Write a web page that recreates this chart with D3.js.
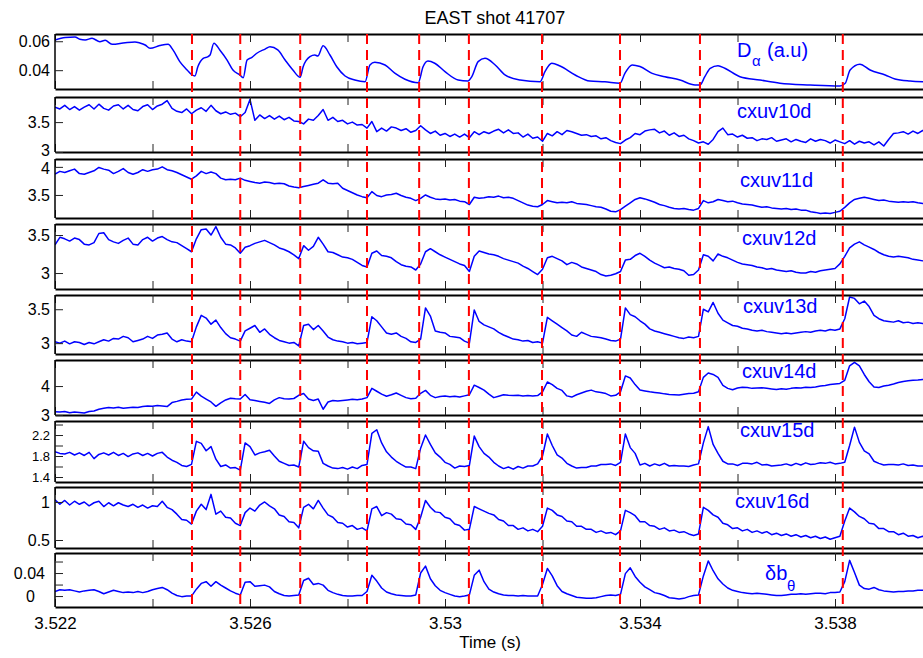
<!DOCTYPE html>
<html><head><meta charset="utf-8">
<script src="https://cdn.jsdelivr.net/npm/d3@7"></script>
<style>
body{margin:0;background:#fff}
svg{display:block}
text{font-family:"Liberation Sans",Arial,Helvetica,sans-serif}
</style></head>
<body><svg id="chart" width="923" height="658"></svg>
<script>
// ---------------- data ----------------
const title = "EAST shot 41707";
const xLabel = "Time (s)";
const xTickValues = [3.522,3.524,3.526,3.528,3.530,3.532,3.534,3.536,3.538,3.540];
const xTickLabels = {"3.522":"3.522","3.526":"3.526","3.53":"3.53","3.534":"3.534","3.538":"3.538"};
const elmTimes = [3.52481,3.52580,3.52703,3.52840,3.52947,3.53049,3.53199,3.53359,3.53523,3.53816];

// sampling instants of the digitised channels (0.1 ms step)
const sampleTimes = d3.range(180).map(i => +(3.522 + i * 0.0001).toFixed(4));

const dalphaTimes = [3.52200,3.52221,3.52241,3.52251,3.52262,3.52276,3.52292,3.52303,3.52317,3.52344,3.52364,3.52374,3.52385,3.52395,3.52415,3.52432,3.52442,3.52456,3.52471,3.52481,3.52487,3.52493,3.52504,3.52514,3.52518,3.52526,3.52538,3.52553,3.52565,3.52579,3.52586,3.52594,3.52604,3.52614,3.52631,3.52641,3.52657,3.52672,3.52688,3.52703,3.52709,3.52723,3.52733,3.52739,3.52750,3.52764,3.52778,3.52795,3.52815,3.52836,3.52846,3.52856,3.52877,3.52897,3.52918,3.52945,3.52955,3.52965,3.52979,3.53000,3.53027,3.53047,3.53055,3.53068,3.53082,3.53103,3.53123,3.53154,3.53195,3.53205,3.53219,3.53236,3.53267,3.53297,3.53328,3.53359,3.53369,3.53384,3.53400,3.53425,3.53451,3.53482,3.53513,3.53523,3.53533,3.53544,3.53560,3.53574,3.53605,3.53646,3.53687,3.53749,3.53810,3.53821,3.53831,3.53851,3.53872,3.53903,3.53923,3.53954,3.53981];
const dalphaValues = [0.0609,0.0625,0.0629,0.0613,0.0609,0.0620,0.0597,0.0606,0.0579,0.0590,0.0595,0.0588,0.0574,0.0551,0.0570,0.0579,0.0540,0.0459,0.0401,0.0367,0.0360,0.0424,0.0482,0.0494,0.0505,0.0586,0.0540,0.0470,0.0401,0.0367,0.0348,0.0470,0.0489,0.0517,0.0546,0.0562,0.0540,0.0470,0.0401,0.0351,0.0424,0.0494,0.0505,0.0498,0.0568,0.0505,0.0424,0.0360,0.0332,0.0320,0.0436,0.0454,0.0436,0.0379,0.0337,0.0313,0.0424,0.0463,0.0448,0.0390,0.0332,0.0325,0.0355,0.0459,0.0482,0.0436,0.0367,0.0332,0.0320,0.0390,0.0448,0.0429,0.0367,0.0325,0.0320,0.0310,0.0378,0.0436,0.0425,0.0378,0.0355,0.0332,0.0298,0.0298,0.0355,0.0413,0.0431,0.0413,0.0355,0.0332,0.0310,0.0298,0.0291,0.0310,0.0401,0.0441,0.0401,0.0367,0.0339,0.0325,0.0320];

const cxuv10d = [3.75,3.72,3.78,3.71,3.76,3.70,3.75,3.79,3.72,3.80,3.73,3.70,3.77,3.79,3.72,3.78,3.71,3.69,3.76,3.79,3.71,3.77,3.80,3.86,3.73,3.68,3.66,3.72,3.64,3.70,3.74,3.68,3.78,3.69,3.64,3.67,3.63,3.65,3.59,3.66,3.88,3.53,3.62,3.56,3.61,3.55,3.60,3.54,3.58,3.52,3.51,3.47,3.55,3.53,3.61,3.71,3.53,3.58,3.51,3.53,3.47,3.50,3.45,3.46,3.40,3.51,3.34,3.40,3.35,3.42,3.40,3.36,3.39,3.33,3.36,3.44,3.37,3.31,3.35,3.28,3.31,3.26,3.30,3.25,3.30,3.24,3.34,3.29,3.34,3.31,3.35,3.38,3.32,3.37,3.31,3.32,3.25,3.30,3.23,3.25,3.18,3.31,3.27,3.34,3.29,3.36,3.34,3.31,3.28,3.29,3.26,3.27,3.22,3.24,3.19,3.16,3.14,3.20,3.24,3.31,3.29,3.35,3.37,3.38,3.32,3.35,3.28,3.32,3.26,3.28,3.22,3.19,3.15,3.17,3.13,3.21,3.34,3.40,3.29,3.30,3.25,3.28,3.23,3.24,3.19,3.22,3.21,3.24,3.18,3.20,3.22,3.17,3.21,3.18,3.16,3.22,3.18,3.21,3.19,3.15,3.20,3.17,3.14,3.19,3.13,3.18,3.15,3.17,3.12,3.17,3.10,3.21,3.31,3.32,3.34,3.30,3.35,3.31,3.36,3.32,3.29,3.33,3.28,3.32,3.34,3.29,3.33,3.28,3.32,3.29];

const cxuv11d = [3.87,3.92,3.90,3.93,3.96,3.88,3.87,3.90,3.93,3.99,3.96,3.94,3.88,3.92,3.97,3.90,3.87,3.90,3.95,3.92,3.95,3.96,4.00,3.95,3.93,3.90,3.86,3.82,3.78,3.84,3.92,3.88,3.91,3.88,3.80,3.77,3.78,3.77,3.80,3.76,3.74,3.72,3.71,3.73,3.72,3.70,3.71,3.70,3.66,3.64,3.63,3.65,3.67,3.69,3.71,3.77,3.71,3.70,3.71,3.62,3.58,3.54,3.50,3.47,3.45,3.56,3.49,3.47,3.50,3.51,3.53,3.49,3.46,3.44,3.40,3.44,3.50,3.46,3.43,3.42,3.43,3.41,3.42,3.39,3.38,3.33,3.46,3.44,3.45,3.47,3.46,3.48,3.45,3.46,3.44,3.40,3.36,3.32,3.30,3.29,3.33,3.40,3.38,3.36,3.37,3.36,3.38,3.35,3.34,3.33,3.31,3.29,3.28,3.25,3.21,3.20,3.24,3.30,3.36,3.42,3.45,3.43,3.40,3.37,3.33,3.31,3.28,3.26,3.25,3.26,3.24,3.23,3.26,3.40,3.36,3.38,3.42,3.40,3.38,3.39,3.36,3.34,3.33,3.32,3.30,3.28,3.29,3.27,3.26,3.25,3.26,3.24,3.25,3.23,3.23,3.20,3.19,3.17,3.18,3.17,3.19,3.21,3.28,3.36,3.42,3.44,3.46,3.44,3.42,3.40,3.41,3.39,3.38,3.37,3.38,3.37,3.38,3.36,3.35,3.35];

const cxuv12d = [3.37,3.47,3.45,3.42,3.46,3.44,3.38,3.37,3.40,3.52,3.53,3.44,3.41,3.39,3.43,3.46,3.38,3.37,3.44,3.47,3.42,3.46,3.48,3.44,3.41,3.40,3.36,3.32,3.28,3.45,3.57,3.58,3.50,3.61,3.47,3.38,3.37,3.33,3.26,3.34,3.36,3.39,3.41,3.43,3.40,3.37,3.33,3.31,3.28,3.24,3.19,3.36,3.30,3.35,3.47,3.38,3.28,3.27,3.24,3.21,3.20,3.18,3.14,3.10,3.08,3.26,3.29,3.23,3.22,3.20,3.15,3.11,3.09,3.08,3.04,3.12,3.28,3.32,3.28,3.24,3.21,3.18,3.15,3.12,3.10,3.02,3.22,3.29,3.27,3.25,3.24,3.22,3.19,3.17,3.15,3.13,3.09,3.06,3.02,2.98,3.05,3.20,3.22,3.19,3.16,3.11,3.14,3.12,3.08,3.06,3.04,3.02,2.98,2.96,2.97,2.99,3.02,3.17,3.18,3.23,3.26,3.22,3.17,3.13,3.10,3.07,3.08,3.06,3.05,3.03,2.97,2.98,3.04,3.24,3.22,3.16,3.25,3.22,3.20,3.17,3.14,3.12,3.11,3.10,3.08,3.07,3.05,3.06,3.04,3.03,3.02,3.03,3.01,3.00,3.00,3.02,3.01,3.03,3.04,3.05,3.06,3.12,3.22,3.33,3.38,3.41,3.37,3.34,3.31,3.27,3.24,3.22,3.21,3.22,3.21,3.20,3.18,3.17,3.16,3.16];

const cxuv13d = [3.02,3.00,3.03,2.99,3.02,3.01,2.98,3.01,2.99,3.02,3.05,3.03,3.07,3.06,3.10,3.08,3.02,3.04,3.06,3.10,3.07,3.12,3.13,3.15,3.06,3.02,3.05,3.03,3.02,3.24,3.41,3.37,3.28,3.34,3.23,3.14,3.08,3.06,3.03,3.18,3.22,3.26,3.16,3.21,3.13,3.08,3.04,3.02,3.00,3.01,2.96,3.26,3.28,3.20,3.26,3.18,3.09,3.05,3.03,3.02,3.00,3.01,2.99,3.00,3.01,3.39,3.33,3.24,3.15,3.13,3.15,3.10,3.07,3.02,3.01,3.06,3.52,3.40,3.18,3.16,3.15,3.10,3.09,3.08,3.03,3.00,3.49,3.32,3.27,3.24,3.21,3.16,3.12,3.09,3.06,3.05,3.03,3.04,3.01,3.02,3.00,3.38,3.33,3.28,3.23,3.18,3.12,3.10,3.16,3.13,3.10,3.09,3.08,3.06,3.04,3.03,3.06,3.52,3.42,3.39,3.33,3.28,3.21,3.18,3.16,3.14,3.12,3.10,3.08,3.07,3.09,3.08,3.10,3.50,3.46,3.60,3.44,3.34,3.30,3.26,3.25,3.22,3.21,3.19,3.18,3.19,3.17,3.16,3.15,3.14,3.15,3.14,3.15,3.16,3.17,3.16,3.18,3.19,3.18,3.20,3.19,3.21,3.36,3.68,3.66,3.58,3.62,3.54,3.41,3.36,3.33,3.32,3.31,3.33,3.30,3.31,3.29,3.30,3.29,3.28];

const cxuv14d = [3.11,3.10,3.12,3.08,3.10,3.09,3.07,3.12,3.14,3.20,3.23,3.26,3.24,3.27,3.23,3.25,3.27,3.26,3.29,3.31,3.30,3.33,3.31,3.29,3.43,3.47,3.52,3.54,3.55,3.79,3.65,3.55,3.45,3.30,3.42,3.52,3.58,3.56,3.55,3.71,3.53,3.50,3.47,3.44,3.40,3.52,3.60,3.56,3.55,3.57,3.68,3.74,3.55,3.50,3.55,3.20,3.45,3.50,3.48,3.50,3.52,3.54,3.53,3.55,3.60,3.92,3.82,3.72,3.65,3.70,3.76,3.68,3.60,3.56,3.58,3.75,3.85,3.68,3.60,3.64,3.66,3.63,3.65,3.62,3.66,3.70,4.03,3.95,3.86,3.72,3.60,3.65,3.70,3.68,3.67,3.68,3.66,3.67,3.66,3.67,3.80,4.14,4.05,3.92,3.85,3.66,3.62,3.70,3.76,3.82,3.86,3.80,3.78,3.74,3.66,3.68,3.80,4.35,4.28,4.05,3.86,3.83,3.80,3.78,3.76,3.73,3.71,3.70,3.69,3.72,3.74,3.75,3.80,4.30,4.45,4.40,4.30,4.02,3.92,3.87,3.93,3.96,3.95,3.92,3.93,3.94,3.92,3.90,3.88,3.91,3.89,3.92,3.94,3.93,3.96,3.95,3.97,4.00,4.02,4.05,4.07,4.09,4.20,4.70,4.82,4.70,4.40,4.15,3.97,3.95,4.00,4.03,4.07,4.12,4.16,4.18,4.20,4.21,4.23,4.24];

const cxuv15d = [1.88,1.85,1.84,1.87,1.82,1.86,1.81,1.87,1.75,1.83,1.86,1.82,1.87,1.81,1.85,1.79,1.84,1.86,1.81,1.85,1.80,1.85,1.87,1.78,1.72,1.68,1.62,1.60,1.64,2.08,2.04,1.90,1.98,1.74,1.60,1.63,1.57,1.58,1.53,2.05,1.98,1.82,1.86,1.88,1.91,1.80,1.70,1.66,1.62,1.63,1.59,2.08,1.96,1.90,1.89,1.66,1.61,1.57,1.56,1.58,1.55,1.59,1.56,1.62,1.64,2.23,2.30,2.05,1.88,1.78,1.70,1.64,1.59,1.59,1.56,1.95,2.20,2.02,1.86,1.78,1.68,1.64,1.57,1.61,1.60,1.62,2.18,1.98,1.85,1.78,1.68,1.61,1.56,1.59,1.55,1.60,1.57,1.61,1.61,1.65,1.80,2.22,2.00,1.82,1.76,1.66,1.61,1.57,1.58,1.58,1.61,1.61,1.64,1.64,1.65,1.62,1.68,2.22,1.96,1.85,1.63,1.66,1.61,1.65,1.62,1.66,1.61,1.62,1.61,1.61,1.60,1.63,1.65,2.05,2.36,2.02,1.85,1.70,1.65,1.65,1.62,1.66,1.66,1.65,1.68,1.63,1.64,1.61,1.62,1.63,1.65,1.62,1.66,1.63,1.67,1.64,1.65,1.67,1.66,1.68,1.65,1.66,1.68,2.00,2.35,2.06,1.90,1.84,1.70,1.66,1.63,1.64,1.64,1.63,1.65,1.62,1.63,1.61,1.61,1.63,1.60];

const cxuv16d = [1.03,0.97,1.02,0.96,1.01,0.97,1.00,0.95,0.99,1.01,0.94,0.99,0.95,0.99,0.96,0.94,0.97,0.93,0.96,0.92,0.95,0.94,1.01,0.93,0.90,0.84,0.77,0.76,0.71,0.88,0.97,0.90,1.10,0.84,0.88,0.80,0.79,0.72,0.69,0.86,0.92,0.88,0.96,1.00,0.95,0.91,0.83,0.81,0.74,0.73,0.66,0.93,0.97,0.91,1.02,0.92,0.83,0.80,0.73,0.72,0.67,0.69,0.64,0.66,0.62,0.91,0.94,0.82,0.86,0.84,0.78,0.77,0.71,0.70,0.64,0.80,1.02,0.93,0.87,0.86,0.80,0.78,0.71,0.69,0.63,0.64,0.94,0.91,0.88,0.85,0.83,0.77,0.75,0.69,0.69,0.64,0.66,0.62,0.64,0.61,0.68,0.92,0.89,0.83,0.81,0.75,0.74,0.68,0.68,0.64,0.64,0.60,0.62,0.59,0.60,0.57,0.62,0.89,0.86,0.82,0.74,0.74,0.69,0.68,0.64,0.66,0.62,0.63,0.60,0.61,0.58,0.56,0.58,0.93,0.89,0.83,0.80,0.72,0.70,0.65,0.66,0.62,0.64,0.60,0.62,0.59,0.61,0.57,0.59,0.56,0.58,0.55,0.57,0.54,0.56,0.53,0.55,0.52,0.54,0.51,0.53,0.55,0.75,0.92,0.87,0.81,0.78,0.72,0.71,0.65,0.65,0.61,0.61,0.57,0.59,0.55,0.56,0.53,0.55,0.52];

const dbTheta = [0.008,0.011,0.010,0.011,0.009,0.007,0.009,0.010,0.011,0.008,0.004,0.007,0.010,0.008,0.006,0.007,0.006,0.008,0.006,0.008,0.011,0.013,0.015,0.011,0.005,0.001,-0.001,0.000,0.000,0.012,0.022,0.025,0.017,0.025,0.019,0.014,0.009,0.005,0.002,0.024,0.025,0.017,0.018,0.019,0.016,0.008,0.004,0.001,0.000,0.001,0.002,0.027,0.031,0.020,0.022,0.019,0.010,0.006,0.003,0.001,0.000,0.000,0.001,0.001,0.008,0.036,0.026,0.014,0.007,0.004,0.002,0.001,0.000,0.000,0.002,0.040,0.052,0.030,0.018,0.010,0.006,0.003,0.000,-0.001,0.000,0.002,0.036,0.045,0.025,0.012,0.007,0.004,0.002,0.001,0.001,0.000,0.001,0.000,0.000,0.000,0.020,0.048,0.035,0.018,0.008,0.004,0.001,-0.002,-0.003,-0.004,-0.004,-0.003,-0.001,0.001,0.002,0.001,0.003,0.039,0.049,0.034,0.024,0.016,0.011,0.006,0.004,0.001,-0.003,-0.004,-0.005,-0.004,-0.001,0.001,0.002,0.035,0.061,0.044,0.030,0.021,0.014,0.010,0.008,0.006,0.005,0.004,0.005,0.004,0.003,0.002,0.001,0.001,0.002,0.003,0.003,0.004,0.003,0.004,0.005,0.005,0.004,0.006,0.006,0.007,0.025,0.062,0.041,0.019,0.013,0.012,0.015,0.011,0.009,0.008,0.007,0.008,0.008,0.009,0.009,0.010,0.010,0.010];

const panelNames = ["Dα (a.u)","cxuv10d","cxuv11d","cxuv12d","cxuv13d","cxuv14d","cxuv15d","cxuv16d","δbθ"];
const yDomains = [[0.027,0.065],[3,3.92],[3.09,4.14],[2.79,3.645],[2.84,3.71],[3,4.9],[1.305,2.467],[0.395,1.197],[-0.019,0.0748]];
const yTicks = [[0.04,0.06],[3,3.5],[3.5,4],[3,3.5],[3,3.5],[3,4],[1.4,1.6,1.8,2.0,2.2,2.4],[0.5,1],[0,0.02,0.04,0.06]];
const yTickLabels = [["0.04","0.06"],["3","3.5"],["3.5","4"],["3","3.5"],["3","3.5"],["3","4"],["1.4","","1.8","","2.2",""],["0.5","1"],["0","","0.04",""]];

// ---------------- layout ----------------
const svg = d3.select("#chart");
const left = 55, rightEdge = 932.5;
const panelTops = [34,97,159,224,295,360,421,487,553];
const panelBottoms = [89,152,218,289,354,415,482,548,607];
const blue = "#0000ff";

const x = d3.scaleLinear().domain([3.522,3.540]).range([left, rightEdge]);

const series = [
  {t: dalphaTimes, v: dalphaValues, smooth: true},
  {t: sampleTimes, v: cxuv10d}, {t: sampleTimes, v: cxuv11d}, {t: sampleTimes, v: cxuv12d},
  {t: sampleTimes, v: cxuv13d}, {t: sampleTimes, v: cxuv14d}, {t: sampleTimes, v: cxuv15d},
  {t: sampleTimes, v: cxuv16d}, {t: sampleTimes, v: dbTheta}
];

const defs = svg.append("defs");

series.forEach((s, p) => {
  const top = panelTops[p], bot = panelBottoms[p];
  const y = d3.scaleLinear().domain(yDomains[p]).range([bot, top]);
  const g = svg.append("g");

  defs.append("clipPath").attr("id", "clip" + p)
    .append("rect").attr("x", left).attr("y", top).attr("width", rightEdge - left).attr("height", bot - top);

  const line = d3.line().x((d, i) => x(s.t[i])).y(d => y(d))
    .curve(s.smooth ? d3.curveMonotoneX : d3.curveLinear);
  g.append("path").datum(s.v).attr("d", line)
    .attr("fill", "none").attr("stroke", blue).attr("stroke-width", 1.5)
    .attr("stroke-linejoin", "round").attr("clip-path", "url(#clip" + p + ")");

  // bottom axis (ticks inward)
  const last = p === series.length - 1;
  const xb = g.append("g").attr("transform", `translate(0,${bot})`)
    .call(d3.axisBottom(x).tickValues(xTickValues).tickSizeInner(-8).tickSizeOuter(0).tickPadding(10)
      .tickFormat(d => last ? (xTickLabels[String(+d.toFixed(3))] || "") : ""));
  // top axis
  const xt = g.append("g").attr("transform", `translate(0,${top})`)
    .call(d3.axisTop(x).tickValues(xTickValues).tickSizeInner(-8).tickSizeOuter(0).tickFormat(""));
  // left axis
  const labs = yTickLabels[p];
  const yl = g.append("g").attr("transform", `translate(${left},0)`)
    .call(d3.axisLeft(y).tickValues(yTicks[p]).tickSizeInner(-8).tickSizeOuter(0).tickPadding(5)
      .tickFormat((d, i) => labs[i]));
  yl.select(".domain").attr("d", `M0,${top}V${bot}`);

  [xb, xt, yl].forEach(a => {
    a.selectAll(".tick line").attr("stroke", "#222").attr("stroke-width", 1);
    a.select(".domain").attr("stroke", "#000");
    a.selectAll("text").attr("fill", "#000").attr("font-size", p === 6 ? 13 : 16);
  });
  xb.select(".domain").attr("stroke-width", 2);
  xt.select(".domain").attr("stroke-width", 2);
  yl.select(".domain").attr("stroke-width", 1.5);
  xb.selectAll("text").attr("font-size", 17);
  if (p === 1) yl.selectAll(".tick text").filter(d => d === 3).attr("dy", "0.2em");
  if (p === 2) yl.selectAll(".tick text").filter(d => d === 4).attr("dy", "0.4em");
  if (p === 8) {
    yl.selectAll(".tick text").filter(d => d === 0).attr("x", -20);
    yl.selectAll(".tick text").filter(d => d === 0.04).attr("x", -10);
  }
});

// ELM markers
svg.append("g").selectAll("line").data(elmTimes).join("line")
  .attr("x1", d => x(d)).attr("x2", d => x(d))
  .attr("y1", panelTops[0]).attr("y2", panelBottoms[8])
  .attr("stroke", "#ff0000").attr("stroke-width", 2).attr("stroke-dasharray", "10,6");

// title & x label
svg.append("text").attr("x", 495).attr("y", 24).attr("text-anchor", "middle")
  .attr("font-size", 18).attr("fill", "#000").text(title);
svg.append("text").attr("x", 490).attr("y", 648).attr("text-anchor", "middle")
  .attr("font-size", 17).attr("fill", "#000").text(xLabel);

// panel names
const nameG = svg.append("g").attr("fill", blue);
nameG.append("text").attr("x", 737).attr("y", 57).attr("font-size", 20).text(panelNames[0].charAt(0));
nameG.append("text").attr("x", 752).attr("y", 66).attr("font-size", 15).text(panelNames[0].charAt(1));
nameG.append("text").attr("x", 767).attr("y", 57).attr("font-size", 20).text(panelNames[0].slice(3));
const namePos = [null,[737,118],[740,187],[742,245],[743,313],[742,378],[740,437],[735,508]];
for (let p = 1; p <= 7; p++) {
  nameG.append("text").attr("x", namePos[p][0]).attr("y", namePos[p][1]).attr("font-size", 20).text(panelNames[p]);
}
nameG.append("text").attr("x", 765).attr("y", 580).attr("font-size", 20).text(panelNames[8].slice(0, 2));
nameG.append("text").attr("x", 787).attr("y", 591).attr("font-size", 15).text(panelNames[8].slice(2));
</script>
</body></html>
